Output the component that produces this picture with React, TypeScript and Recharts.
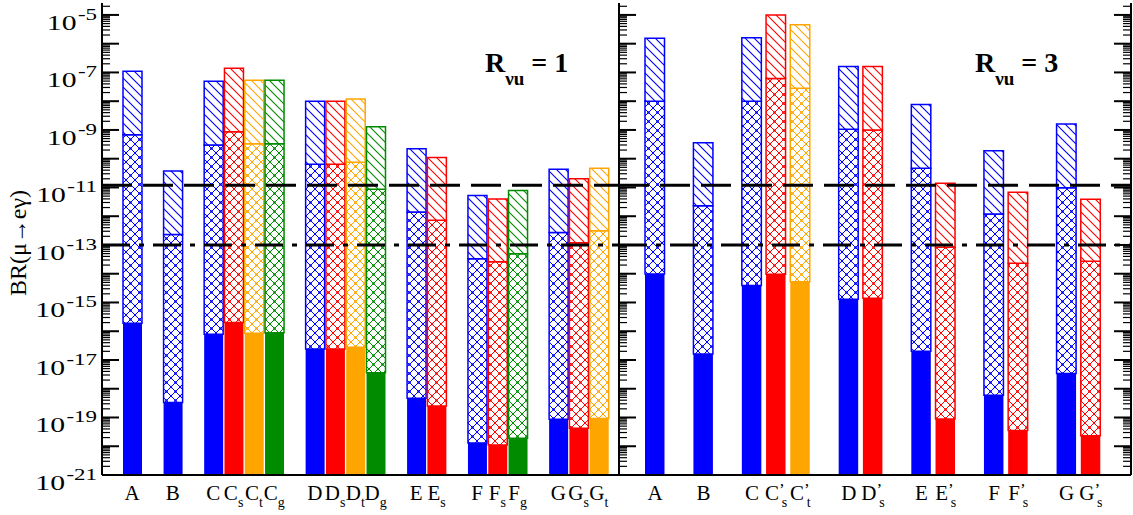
import React from 'react';
import { BarChart, Bar, XAxis, YAxis, Cell, ReferenceLine } from 'recharts';

// BR(mu -> e gamma): top of the solid band, the
// cross-hatched band and the diagonal-hatched band for every scenario.
const leftGroups = [['A'], ['B'], ['C', 'C_s', 'C_t', 'C_g'], ['D', 'D_s', 'D_t', 'D_g'], ['E', 'E_s'], ['F', 'F_s', 'F_g'], ['G', 'G_s', 'G_t']];
const leftSolid = [1.9e-16, 3.3e-19, 7.8e-17, 2.0e-16, 8.5e-17, 8.9e-17, 2.4e-17, 2.4e-17, 2.8e-17, 3.6e-18, 4.7e-19, 2.5e-19, 1.3e-20, 1.1e-20, 1.9e-20, 8.7e-20, 4.2e-20, 9.3e-20];
const leftCross = [6.8e-10, 2.3e-13, 3.0e-10, 8.7e-10, 3.3e-10, 3.3e-10, 6.4e-11, 6.4e-11, 7.6e-11, 8.7e-12, 1.4e-12, 7.3e-13, 3.3e-14, 2.6e-14, 4.9e-14, 2.7e-13, 1.2e-13, 3.1e-13];
const leftHatch = [1.1e-7, 3.7e-11, 4.9e-8, 1.4e-7, 5.4e-8, 5.4e-8, 1.0e-8, 1.0e-8, 1.2e-8, 1.3e-9, 2.2e-10, 1.1e-10, 5.2e-12, 4.0e-12, 7.8e-12, 4.3e-11, 2.0e-11, 4.7e-11];

const rightGroups = [['A'], ['B'], ['C', "C'_s", "C'_t"], ['D', "D'_s"], ['E', "E'_s"], ['F', "F'_s"], ['G', "G'_s"]];
const rightSolid = [9.8e-15, 1.6e-17, 3.9e-15, 9.6e-15, 5.3e-15, 1.3e-15, 1.4e-15, 2.0e-17, 8.9e-20, 5.9e-19, 3.5e-20, 3.4e-18, 2.3e-20];
const rightCross = [1.0e-8, 2.3e-12, 1.0e-8, 6.1e-8, 2.8e-8, 1.05e-9, 1.0e-9, 4.7e-11, 8.3e-14, 1.2e-12, 2.3e-14, 9.8e-12, 2.7e-14];
const rightHatch = [1.55e-6, 3.6e-10, 1.6e-6, 1.0e-5, 4.6e-6, 1.6e-7, 1.6e-7, 7.6e-9, 1.4e-11, 1.9e-10, 6.8e-12, 1.6e-9, 3.9e-12];

// experimental bounds drawn across both panels
const megaBound = 1.2e-11;
const futureBound = 1e-13;

const decades = [-21, -20, -19, -18, -17, -16, -15, -14, -13, -12, -11, -10, -9, -8, -7, -6, -5];
const minorSteps = [2, 3, 4, 5, 6, 7, 8, 9];

const FLOOR = 1e-21;
const TOP = 2.6e-5;
const SERIF = '"Liberation Serif", "DejaVu Serif", serif';

// subscript decides the colour: none = blue, s = red, t = orange, g = green
const PALETTE: Record<string, string> = { '': '#0000ff', s: '#ff0000', t: '#ffa500', g: '#008b00' };

const yTicks: number[] = [];
decades.forEach((e) => {
  yTicks.push(Math.pow(10, e));
  minorSteps.forEach((m) => {
    const v = m * Math.pow(10, e);
    if (v <= TOP) yTicks.push(v);
  });
});

type Row = { name: string; kind: string; solid: number[] | null; cross: number[] | null; hatch: number[] | null };

function buildRows(groups: string[][], solid: number[], cross: number[], hatch: number[]): Row[] {
  const rows: Row[] = [];
  let i = 0;
  groups.forEach((g, gi) => {
    if (gi > 0) rows.push({ name: '', kind: '', solid: null, cross: null, hatch: null });
    g.forEach((name) => {
      const kind = name.split('_')[1] ?? '';
      rows.push({ name, kind, solid: [FLOOR, solid[i]], cross: [solid[i], cross[i]], hatch: [cross[i], hatch[i]] });
      i++;
    });
  });
  return rows;
}

const leftRows = buildRows(leftGroups, leftSolid, leftCross, leftHatch);
const rightRows = buildRows(rightGroups, rightSolid, rightCross, rightHatch);

function tickInfo(v: number) {
  const lg = Math.log10(v);
  const e = Math.round(lg);
  return { e, major: Math.abs(lg - e) < 1e-6 };
}

// left axis of the first panel: inward ticks plus 10^odd labels
// (the original typesetting is a bit wider than Liberation Serif, hence the x-stretch)
const LabelledTick = (props: any) => {
  const { x, y, payload } = props;
  const { e, major } = tickInfo(payload.value);
  return (
    <g>
      <line x1={x} x2={x + (major ? 17 : 8)} y1={y} y2={y} stroke="#000" strokeWidth={major ? 2 : 1.2} />
      {major && e % 2 !== 0 && (
        <text transform={`translate(${x - 5},${y + 15}) scale(1.35,1)`} textAnchor="end" fontFamily={SERIF} fontSize={22} fill="#000">
          10<tspan dx={1} dy={-10} fontSize={17}>{e}</tspan>
        </text>
      )}
    </g>
  );
};

const InwardTick = (dir: number) => (props: any) => {
  const { x, y, payload } = props;
  const { major } = tickInfo(payload.value);
  return <line x1={x} x2={x + dir * (major ? 17 : 8)} y1={y} y2={y} stroke="#000" strokeWidth={major ? 2 : 1.2} />;
};

const CategoryTick = (props: any) => {
  const { x, y, payload } = props;
  const label: string = payload.value || '';
  if (!label) return <g />;
  const [head, sub] = label.split('_');
  const prime = head.includes("'");
  return (
    <text x={x} y={y + 25} textAnchor="middle" fontFamily={SERIF} fontSize={21} fill="#000">
      {head[0]}
      {prime && <tspan fontSize={17} dy={-5}>’</tspan>}
      {sub && (
        <tspan fontSize={14} dy={prime ? 12 : 7} dx={prime ? -3 : 0}>
          {sub}
        </tspan>
      )}
    </text>
  );
};

const axisStroke = { stroke: '#000', strokeWidth: 2 };

function Panel({ rows, width, barSize, padding, labelled }: { rows: Row[]; width: number; barSize: number; padding: { left: number; right: number }; labelled: boolean }) {
  return (
    <BarChart width={width} height={515} data={rows} margin={{ top: 3, right: 1, bottom: 0, left: 0 }} barGap={-barSize} barCategoryGap={0}>
      <XAxis dataKey="name" height={40} padding={padding} interval={0} tick={<CategoryTick />} tickLine={false} tickSize={0} tickMargin={0} axisLine={axisStroke} />
      <XAxis xAxisId="top" dataKey="name" orientation="top" height={0} padding={padding} tick={false} tickLine={false} axisLine={axisStroke} />
      <YAxis
        type="number"
        scale="log"
        domain={[FLOOR, TOP]}
        allowDataOverflow
        ticks={yTicks}
        interval={0}
        width={labelled ? 102 : 2}
        tick={labelled ? LabelledTick : InwardTick(1)}
        tickLine={false}
        tickSize={0}
        tickMargin={0}
        axisLine={axisStroke}
      />
      {!labelled && (
        <YAxis
          yAxisId="right"
          orientation="right"
          type="number"
          scale="log"
          domain={[FLOOR, TOP]}
          allowDataOverflow
          ticks={yTicks}
          interval={0}
          width={1}
          tick={InwardTick(-1)}
          tickLine={false}
          tickSize={0}
          tickMargin={0}
          axisLine={axisStroke}
        />
      )}
      <Bar dataKey="solid" barSize={barSize} isAnimationActive={false}>
        {rows.map((r, i) => (
          <Cell key={i} fill={PALETTE[r.kind]} />
        ))}
      </Bar>
      <Bar dataKey="cross" barSize={barSize} isAnimationActive={false}>
        {rows.map((r, i) => (
          <Cell key={i} fill={`url(#cross-${r.kind || 'n'})`} stroke={PALETTE[r.kind]} strokeWidth={1.5} />
        ))}
      </Bar>
      <Bar dataKey="hatch" barSize={barSize} isAnimationActive={false}>
        {rows.map((r, i) => (
          <Cell key={i} fill={`url(#hatch-${r.kind || 'n'})`} stroke={PALETTE[r.kind]} strokeWidth={1.5} />
        ))}
      </Bar>
      <ReferenceLine y={megaBound} stroke="#000" strokeWidth={3} strokeDasharray="30 11" />
      <ReferenceLine y={futureBound} stroke="#000" strokeWidth={3} strokeDasharray="28 9 5 9" />
    </BarChart>
  );
}

function Patterns() {
  return (
    <svg width={0} height={0} style={{ position: 'absolute' }}>
      <defs>
        {Object.keys(PALETTE).map((k) => {
          const c = PALETTE[k];
          const id = k || 'n';
          return (
            <React.Fragment key={id}>
              <pattern id={`hatch-${id}`} patternUnits="userSpaceOnUse" width={9} height={9}>
                <rect width={9} height={9} fill="#fff" />
                <path d="M0,0 L9,9 M-1,8 L1,10 M8,-1 L10,1" stroke={c} strokeWidth={1.1} />
              </pattern>
              <pattern id={`cross-${id}`} patternUnits="userSpaceOnUse" width={9} height={9}>
                <rect width={9} height={9} fill="#fff" />
                <path d="M0,0 L9,9 M9,0 L0,9" stroke={c} strokeWidth={1} />
                <circle cx={4.5} cy={4.5} r={1.2} fill={c} />
                <circle cx={0} cy={0} r={1.2} fill={c} />
                <circle cx={9} cy={0} r={1.2} fill={c} />
                <circle cx={0} cy={9} r={1.2} fill={c} />
                <circle cx={9} cy={9} r={1.2} fill={c} />
              </pattern>
            </React.Fragment>
          );
        })}
      </defs>
    </svg>
  );
}

function PanelTitle({ x, value }: { x: number; value: string }) {
  return (
    <text x={x} y={72} fontFamily={SERIF} fontWeight="bold" fontSize={28} fill="#000">
      R<tspan fontSize={19} dy={13}>νu</tspan>
      <tspan dy={-13}> = {value}</tspan>
    </text>
  );
}

export default function App() {
  return (
    <div style={{ position: 'absolute', left: 0, top: 0, width: 1133, height: 515, background: '#fff' }}>
      <Patterns />
      <div style={{ position: 'absolute', left: 0, top: 0 }}>
        <Panel rows={leftRows} width={620} barSize={19} padding={{ left: 20, right: 10 }} labelled />
      </div>
      <div style={{ position: 'absolute', left: 617, top: 0 }}>
        <Panel rows={rightRows} width={516} barSize={19.5} padding={{ left: 24, right: 28 }} labelled={false} />
      </div>
      <svg width={1133} height={515} style={{ position: 'absolute', left: 0, top: 0, pointerEvents: 'none' }}>
        <text transform="translate(26,243) rotate(-90)" textAnchor="middle" fontFamily={SERIF} fontSize={24} fill="#000">
          BR(μ→eγ)
        </text>
        <PanelTitle x={485} value="1" />
        <PanelTitle x={975} value="3" />
      </svg>
    </div>
  );
}
